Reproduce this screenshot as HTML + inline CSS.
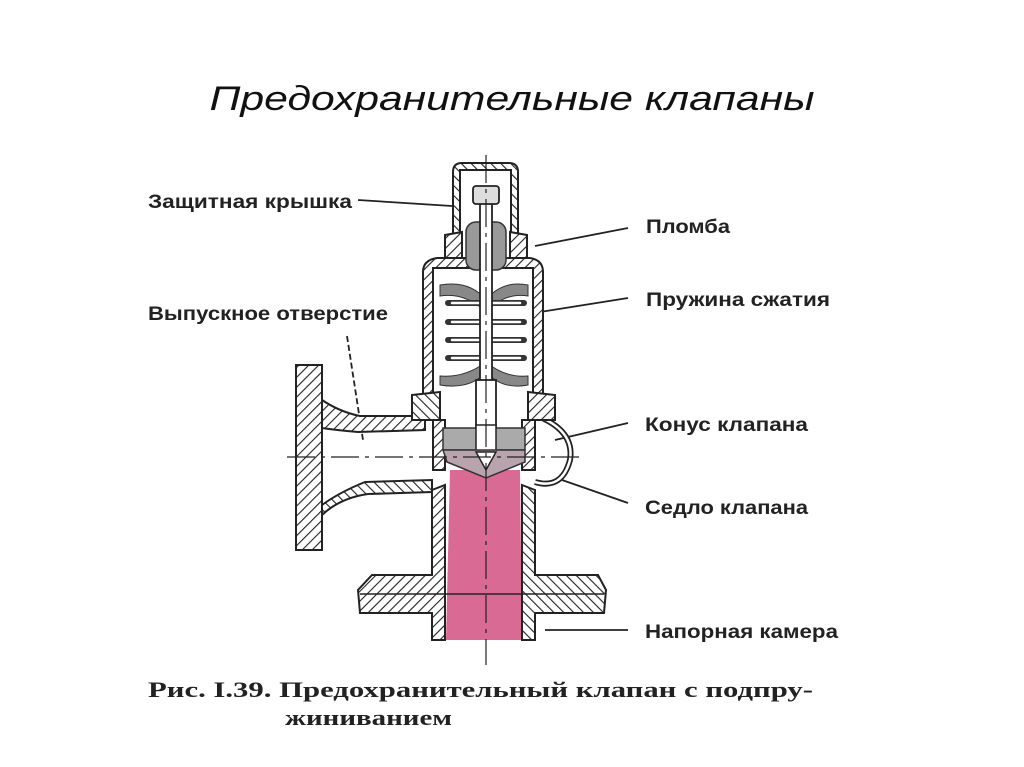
<!DOCTYPE html>
<html><head><meta charset="utf-8"><style>
html,body{margin:0;padding:0;background:#fff;width:1024px;height:767px;overflow:hidden}
</style></head><body>
<svg width="1024" height="767" viewBox="0 0 1024 767" xmlns="http://www.w3.org/2000/svg">
<defs>
<pattern id="h" patternUnits="userSpaceOnUse" width="7" height="7" patternTransform="rotate(45)">
<rect width="7" height="7" fill="#fff"/><line x1="0" y1="0" x2="0" y2="7" stroke="#222" stroke-width="2.2"/></pattern>
<pattern id="h2" patternUnits="userSpaceOnUse" width="7" height="7" patternTransform="rotate(-45)">
<rect width="7" height="7" fill="#fff"/><line x1="0" y1="0" x2="0" y2="7" stroke="#222" stroke-width="2.2"/></pattern>
</defs>
<text x="512" y="110" text-anchor="middle" font-family="Liberation Sans, sans-serif" font-style="italic" font-size="34" fill="#111" textLength="605" lengthAdjust="spacingAndGlyphs">Предохранительные клапаны</text>

<g font-family="Liberation Sans, sans-serif" font-weight="bold" font-size="19" fill="#222">
<text x="148" y="208" textLength="204" lengthAdjust="spacingAndGlyphs">Защитная крышка</text>
<text x="148" y="320" textLength="240" lengthAdjust="spacingAndGlyphs">Выпускное отверстие</text>
<text x="646" y="233" textLength="84" lengthAdjust="spacingAndGlyphs">Пломба</text>
<text x="646" y="306" textLength="184" lengthAdjust="spacingAndGlyphs">Пружина сжатия</text>
<text x="645" y="431" textLength="163" lengthAdjust="spacingAndGlyphs">Конус клапана</text>
<text x="645" y="514" textLength="163" lengthAdjust="spacingAndGlyphs">Седло клапана</text>
<text x="645" y="638" textLength="193" lengthAdjust="spacingAndGlyphs">Напорная камера</text>
</g>
<g font-family="Liberation Serif, serif" font-weight="bold" font-size="22" fill="#222">
<text x="148" y="697" textLength="665" lengthAdjust="spacingAndGlyphs">Рис. I.39. Предохранительный клапан с подпру-</text>
<text x="285" y="725" textLength="167" lengthAdjust="spacingAndGlyphs">жиниванием</text>
</g>

<g stroke="#222" stroke-width="1.8" fill="none">
<line x1="358" y1="200" x2="452" y2="206"/>
<line x1="535" y1="246" x2="628" y2="228"/>
<line x1="540" y1="312" x2="628" y2="298"/>
<line x1="555" y1="440" x2="628" y2="423"/>
<line x1="562" y1="480" x2="628" y2="503"/>
<line x1="545" y1="630" x2="628" y2="630"/>
<line x1="347" y1="336" x2="363" y2="440" stroke-dasharray="6,3"/>
</g>

<path d="M450 470 L520 470 L522 640 L446 640 Z" fill="#d96a93"/>

<path d="M432 490 L445 485 L445 640 L432 640 L432 613 L360 613 L358 590 L372 575 L432 575 Z" fill="url(#h)" stroke="#222" stroke-width="2"/>
<path d="M522 485 L535 490 L535 575 L598 575 L606 590 L604 613 L535 613 L535 640 L522 640 Z" fill="url(#h2)" stroke="#222" stroke-width="2"/>
<line x1="360" y1="594" x2="604" y2="594" stroke="#222" stroke-width="1.5"/>

<path d="M322 400 Q340 412 360 416 L425 416 L425 430 L358 432 Q335 430 322 428 Z" fill="url(#h)" stroke="#222" stroke-width="2"/>
<path d="M322 505 Q340 492 365 482 L432 480 L432 492 L368 494 Q340 498 322 515 Z" fill="url(#h2)" stroke="#222" stroke-width="2"/>
<path d="M296 365 L322 365 L322 550 L296 550 Z" fill="url(#h)" stroke="#222" stroke-width="2"/>

<path d="M535 415 Q575 430 570 460 Q562 490 535 482" fill="none" stroke="#222" stroke-width="6"/>
<path d="M535 415 Q575 430 570 460 Q562 490 535 482" fill="none" stroke="#fff" stroke-width="2.5"/>

<path d="M423 400 L423 272 Q423 260 437 258 L530 258 Q543 260 543 272 L543 400 L533 400 L533 268 L433 268 L433 400 Z" fill="url(#h)" stroke="#222" stroke-width="2"/>
<path d="M412 395 L440 392 L440 420 L412 420 Z" fill="url(#h2)" stroke="#222" stroke-width="2"/>
<path d="M528 392 L555 395 L555 420 L528 420 Z" fill="url(#h)" stroke="#222" stroke-width="2"/>
<path d="M433 420 L445 420 L445 470 L433 470 Z M522 420 L535 420 L535 470 L522 470 Z" fill="url(#h)" stroke="#222" stroke-width="2"/>

<path d="M453 250 L453 172 Q453 163 462 163 L509 163 Q518 163 518 172 L518 250 L511 250 L511 170 L460 170 L460 250 Z" fill="url(#h2)" stroke="#222" stroke-width="2"/>
<path d="M445 235 L462 232 L462 258 L445 258 Z M510 232 L527 235 L527 258 L510 258 Z" fill="url(#h)" stroke="#222" stroke-width="2"/>
<rect x="466" y="222" width="40" height="48" rx="10" fill="#999" stroke="#333" stroke-width="1.5"/>

<path d="M440 285 Q470 280 486 300 Q502 280 528 285 L528 296 Q505 292 486 312 Q465 292 440 296 Z" fill="#888" stroke="#333"/>
<path d="M440 385 Q470 390 486 372 Q502 390 528 385 L528 376 Q505 378 486 362 Q465 378 440 376 Z" fill="#888" stroke="#333"/>
<g stroke="#333" stroke-width="6" stroke-linecap="round">
<line x1="448" y1="303" x2="524" y2="303"/><line x1="448" y1="322" x2="524" y2="322"/>
<line x1="448" y1="340" x2="524" y2="340"/><line x1="448" y1="358" x2="524" y2="358"/>
</g>
<g stroke="#fff" stroke-width="2.5" stroke-linecap="round">
<line x1="452" y1="303" x2="520" y2="303"/><line x1="452" y1="322" x2="520" y2="322"/>
<line x1="452" y1="340" x2="520" y2="340"/><line x1="452" y1="358" x2="520" y2="358"/>
</g>

<rect x="480" y="190" width="12" height="195" fill="#fff" stroke="#222" stroke-width="1.8"/>
<rect x="473" y="186" width="26" height="18" rx="3" fill="#ddd" stroke="#222" stroke-width="1.8"/>
<rect x="476" y="380" width="20" height="68" fill="#fff" stroke="#222" stroke-width="1.8"/>
<rect x="443" y="428" width="82" height="22" fill="#aaa" stroke="#333" stroke-width="1.5"/>
<rect x="476" y="425" width="20" height="28" fill="#fff" stroke="#222" stroke-width="1.5"/>
<path d="M443 450 L525 450 L525 462 L486 478 L447 462 Z" fill="#b9a3ad" stroke="#333" stroke-width="1.5"/>
<path d="M476 452 L496 452 L486 470 Z" fill="#fff" stroke="#222" stroke-width="1.5"/>

<line x1="287" y1="457" x2="585" y2="457" stroke="#222" stroke-width="1.2" stroke-dasharray="28,6,4,6"/>
<line x1="486" y1="155" x2="486" y2="665" stroke="#222" stroke-width="1.2" stroke-dasharray="28,6,4,6"/>
</svg>
</body></html>
